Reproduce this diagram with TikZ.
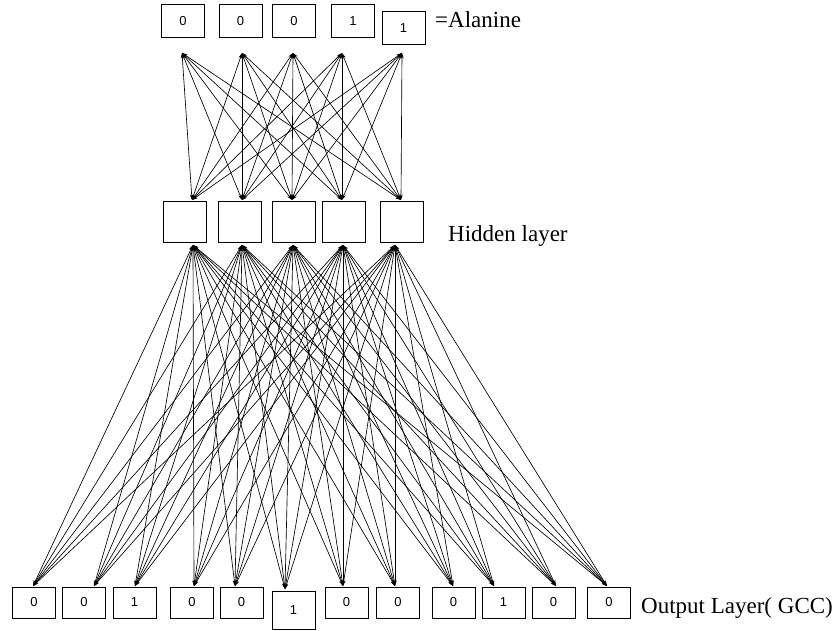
\documentclass[tikz,border=0pt]{standalone}
\usepackage{fontspec}
\setmainfont{Liberation Serif}
\newfontfamily\digfont{Liberation Sans}
\usetikzlibrary{arrows.meta}
\begin{document}
\begin{tikzpicture}[x=1pt,y=-1pt,
  cell/.style={draw,line width=1pt,minimum width=43pt,minimum height=33pt,inner sep=0pt,font=\digfont\fontsize{13}{13}\selectfont},
  hid/.style={draw,line width=1pt,minimum width=43pt,minimum height=41pt,inner sep=0pt},
  wire/.style={line width=0.65pt,{Stealth[length=5.5pt,width=3.5pt]}-{Stealth[length=5.5pt,width=3.5pt]}},
  lbl/.style={anchor=base west,inner sep=0pt,font=\fontsize{23}{25}\selectfont}]
\useasboundingbox (0,0) rectangle (838,631);
% input layer
\node[cell] (i1) at (183,21.5) {0};
\node[cell] (i2) at (240.5,21.5) {0};
\node[cell] (i3) at (294,21.5) {0};
\node[cell] (i4) at (353,21.5) {1};
\node[cell] (i5) at (403.5,28) {1};
\node[lbl] (alan) at (435,28) {=Alanine};
\coordinate (ib1) at (182,53);
\coordinate (ib2) at (242,53);
\coordinate (ib3) at (293,53);
\coordinate (ib4) at (342,53);
\coordinate (ib5) at (402,53);
% hidden layer
\node[hid] (h1) at (185,222.5) {};
\node[hid] (h2) at (239.5,222.5) {};
\node[hid] (h3) at (293.5,222.5) {};
\node[hid] (h4) at (343.5,222.5) {};
\node[hid] (h5) at (401.5,222.5) {};
\node[lbl] (hidl) at (448,241) {Hidden layer};
\coordinate (ht1) at (192,200);
\coordinate (ht2) at (242,200);
\coordinate (ht3) at (292,200);
\coordinate (ht4) at (342,200);
\coordinate (ht5) at (401,200);
\coordinate (hb1) at (193,245);
\coordinate (hb2) at (242,245);
\coordinate (hb3) at (293,245);
\coordinate (hb4) at (343,245);
\coordinate (hb5) at (395,245);
% output layer
\node[cell,minimum height=31pt] (o1) at (34,602.5) {0};
\node[cell,minimum height=31pt] (o2) at (84,602.5) {0};
\node[cell,minimum height=31pt] (o3) at (134.5,602.5) {1};
\node[cell,minimum height=31pt] (o4) at (192,602.5) {0};
\node[cell,minimum height=31pt] (o5) at (241.5,602.5) {0};
\node[cell,minimum height=38pt] (o6) at (293.5,610.5) {1};
\node[cell,minimum height=31pt] (o7) at (346.5,602.5) {0};
\node[cell,minimum height=31pt] (o8) at (398,602.5) {0};
\node[cell,minimum height=31pt] (o9) at (453.5,602.5) {0};
\node[cell,minimum height=31pt] (o10) at (503.5,602.5) {1};
\node[cell,minimum height=31pt] (o11) at (553.5,602.5) {0};
\node[cell,minimum height=31pt] (o12) at (609,602.5) {0};
\node[lbl] (outl) at (641,613) {Output Layer( GCC)};
\coordinate (ot1) at (33,586);
\coordinate (ot2) at (94,586);
\coordinate (ot3) at (135,586);
\coordinate (ot4) at (194,586);
\coordinate (ot5) at (235,586);
\coordinate (ot6) at (285,589);
\coordinate (ot7) at (343,586);
\coordinate (ot8) at (395,586);
\coordinate (ot9) at (453,586);
\coordinate (ot10) at (494,586);
\coordinate (ot11) at (556,586);
\coordinate (ot12) at (607,586);
% connections
\foreach \i in {1,...,5}{\foreach \j in {1,...,5}{\draw[wire] (ib\i) -- (ht\j);}}
\foreach \i in {1,...,5}{\foreach \j in {1,...,12}{\draw[wire] (hb\i) -- (ot\j);}}
\end{tikzpicture}
\end{document}
